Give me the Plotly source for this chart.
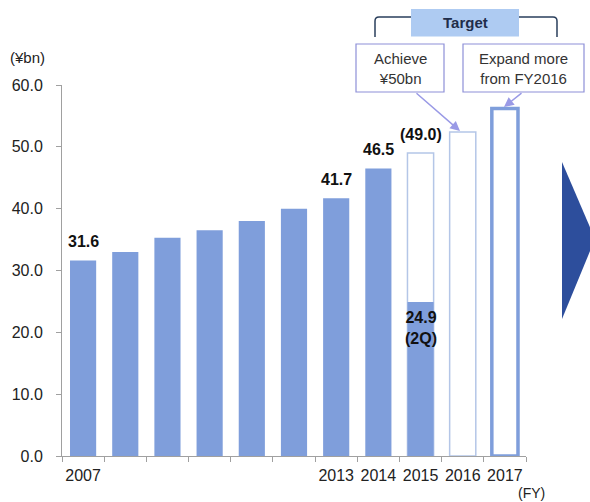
import plotly.graph_objects as go

years = ['2007', '2008', '2009', '2010', '2011', '2012', '2013', '2014', '2015', '2016', '2017']
tick_labels = ['2007', '', '', '', '', '', '2013', '2014', '2015', '2016', '2017']
actual = [31.6, 33.0, 35.3, 36.5, 38.0, 40.0, 41.7, 46.5, 24.9, None, None]
target = [None, None, None, None, None, None, None, None, 49.0, 52.4, 56.2]
target_border_w = [0, 0, 0, 0, 0, 0, 0, 0, 1.5, 1.5, 3.5]
target_border_c = ['#b4c6e7'] * 10 + ['#7f9edb']

value_labels = [('2007', 31.6, '31.6'), ('2013', 41.7, '41.7'),
                ('2014', 46.5, '46.5'), ('2015', 49.0, '(49.0)')]

W, H = 590, 502
L, R, T, B = 62, 64, 85, 46
PW, PH = W - L - R, H - T - B

def px(x):
    return (x - L) / PW

def py(y):
    return (H - B - y) / PH

FONT = 'Liberation Sans, Arial, sans-serif'
BAR = '#7f9edb'

fig = go.Figure()
fig.add_trace(go.Bar(x=years, y=target, width=0.62,
                     marker=dict(color='white',
                                 line=dict(color=target_border_c, width=target_border_w)),
                     hoverinfo='skip'))
fig.add_trace(go.Bar(x=years, y=actual, width=0.62,
                     marker=dict(color=BAR, line=dict(width=0))))

ann = []
for yr, v, t in value_labels:
    ann.append(dict(x=years.index(yr), y=v, xref='x', yref='y', text='<b>%s</b>' % t,
                    showarrow=False, xanchor='center', yanchor='middle', yshift=19,
                    font=dict(size=16, color='#111', family=FONT)))
ann.append(dict(x=years.index('2015'), y=24.9, xref='x', yref='y', text='<b>24.9<br>(2Q)</b>',
                showarrow=False, xanchor='center', yanchor='middle', yshift=-26,
                font=dict(size=16, color='#111', family=FONT)))

def txt(x, y, t, size=15, color='#333'):
    return dict(x=px(x), y=py(y), xref='paper', yref='paper', text=t,
                showarrow=False, xanchor='center', yanchor='middle',
                font=dict(size=size, color=color, family=FONT))

ann.append(txt(27, 57, '(¥bn)', 15, '#222'))
ann.append(txt(531, 493, '(FY)', 14, '#222'))
ann.append(txt(465, 22.5, '<b>Target</b>', 15, '#1f2d4a'))
ann.append(txt(400, 69, 'Achieve<br>¥50bn'))
ann.append(txt(523.5, 69, 'Expand more<br>from FY2016'))
# arrows
ann.append(dict(x=px(460), y=py(131), xref='paper', yref='paper', text='',
                showarrow=True, ax=-45, ay=-39, arrowhead=2, arrowsize=1.3,
                arrowwidth=1.5, arrowcolor='#9a9ae6'))
ann.append(dict(x=px(504), y=py(107), xref='paper', yref='paper', text='',
                showarrow=True, ax=19, ay=-15, arrowhead=2, arrowsize=1.3,
                arrowwidth=1.5, arrowcolor='#9a9ae6'))

def P(points, close=False):
    s = ''
    for cmd, x, y in points:
        s += '%s%.5f,%.5f ' % (cmd, px(x), py(y))
    if close:
        s += 'Z'
    return s

shapes = []
bracket = 'M%.5f,%.5f L%.5f,%.5f Q%.5f,%.5f %.5f,%.5f L%.5f,%.5f Q%.5f,%.5f %.5f,%.5f L%.5f,%.5f' % (
    px(375), py(37), px(375), py(21), px(375), py(17), px(379), py(17),
    px(553), py(17), px(557), py(17), px(557), py(21), px(557), py(37))
shapes.append(dict(type='path', xref='paper', yref='paper', path=bracket,
                   line=dict(color='#2a3f5c', width=1.5)))
shapes.append(dict(type='rect', xref='paper', yref='paper', x0=px(411), x1=px(519),
                   y0=py(36.5), y1=py(9), fillcolor='#aecbf2', line=dict(width=0)))
shapes.append(dict(type='rect', xref='paper', yref='paper', x0=px(356), x1=px(444),
                   y0=py(92), y1=py(44), fillcolor='white', line=dict(color='#8e90d8', width=1.2)))
shapes.append(dict(type='rect', xref='paper', yref='paper', x0=px(463), x1=px(584),
                   y0=py(92), y1=py(44), fillcolor='white', line=dict(color='#8e90d8', width=1.2)))
tri = P([('M', 562, 162), ('L', 595, 239), ('L', 562, 319)], close=True)
shapes.append(dict(type='path', xref='paper', yref='paper', path=tri,
                   fillcolor='#2d4e9c', line=dict(width=0)))

fig.update_layout(
    width=W, height=H, margin=dict(l=L, r=R, t=T, b=B),
    paper_bgcolor='white', plot_bgcolor='white',
    barmode='overlay', showlegend=False, bargap=0.38,
    annotations=ann, shapes=shapes,
    font=dict(family=FONT, size=16, color='#222'),
    xaxis=dict(type='category', tickmode='array', tickvals=years, ticktext=tick_labels,
               tickson='boundaries', ticks='outside', ticklen=5, tickcolor='#a0a0a0',
               showline=True, linecolor='#a0a0a0', linewidth=1, showgrid=False,
               range=[-0.5, 10.5], tickangle=0, tickfont=dict(size=16, color='#222'),
               ticklabelstandoff=5),
    yaxis=dict(range=[0, 60], tickvals=[0, 10, 20, 30, 40, 50, 60],
               ticktext=['0.0', '10.0', '20.0', '30.0', '40.0', '50.0', '60.0'],
               ticks='outside', ticklen=5, tickcolor='#a0a0a0',
               showline=True, linecolor='#a0a0a0', linewidth=1, showgrid=False,
               zeroline=False, tickfont=dict(size=16, color='#222'),
               ticklabelstandoff=10),
)

fig.write_html('out.html')
